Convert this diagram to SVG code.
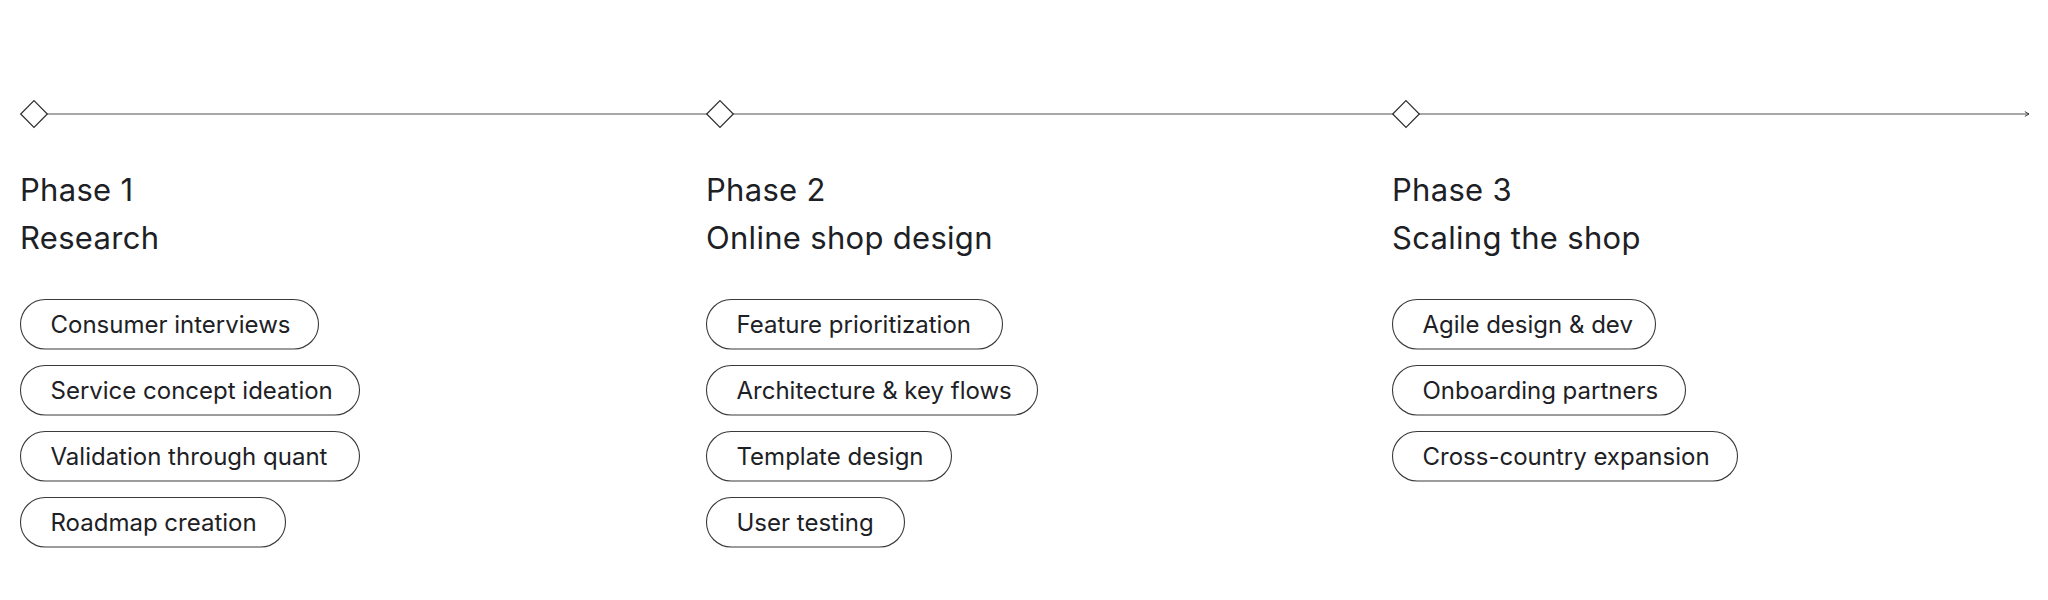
<svg xmlns="http://www.w3.org/2000/svg" width="2048" height="600" viewBox="0 0 2048 600">
<style>
  .bg { fill: #ffffff; }
  .line { stroke: #8a8a8a; stroke-width: 1.3; fill: none; }
  .diamond { fill: #ffffff; stroke: #2b2b2b; stroke-width: 1.2; }
  .head { font-family: Inter, "Liberation Sans", sans-serif; font-size: 31px; letter-spacing: 0.3px; fill: #1d2125; }
  .pill { fill: #ffffff; stroke: #3a3a3a; stroke-width: 1.1; }
  .ptext { font-family: Inter, "Liberation Sans", sans-serif; font-size: 24px; fill: #1d2125; }
</style>
<defs>
  <marker id="arrow" viewBox="0 0 10 10" refX="9" refY="5" markerWidth="6" markerHeight="6" orient="auto" markerUnits="userSpaceOnUse">
    <path d="M2,1 L9,5 L2,9" fill="none" stroke="#2b2b2b" stroke-width="1.5"/>
  </marker>
</defs>
<rect class="bg" x="0" y="0" width="2048" height="600"/>

<g id="connectors">
  <line class="line" x1="47" y1="114" x2="2029" y2="114" marker-end="url(#arrow)"/>
</g>

<g id="phase1">
  <path class="diamond" d="M34,100.7 L47.3,114 L34,127.3 L20.7,114 Z"/>
  <text class="head" x="20" y="200.5">Phase 1</text>
  <text class="head" x="20" y="248.5">Research</text>
</g>
<g id="p1-consumer-interviews">
  <rect class="pill" x="20.5" y="299.5" width="298" height="49.5" rx="24.75"/>
  <text class="ptext" x="50.5" y="333.3">Consumer interviews</text>
</g>
<g id="p1-service-concept">
  <rect class="pill" x="20.5" y="365.5" width="339" height="49.5" rx="24.75"/>
  <text class="ptext" x="50.5" y="399.3">Service concept ideation</text>
</g>
<g id="p1-validation">
  <rect class="pill" x="20.5" y="431.5" width="339" height="49.5" rx="24.75"/>
  <text class="ptext" x="50.5" y="465.3">Validation through quant</text>
</g>
<g id="p1-roadmap">
  <rect class="pill" x="20.5" y="497.5" width="265" height="49.5" rx="24.75"/>
  <text class="ptext" x="50.5" y="531.3">Roadmap creation</text>
</g>

<g id="phase2">
  <path class="diamond" d="M720,100.7 L733.3,114 L720,127.3 L706.7,114 Z"/>
  <text class="head" x="706" y="200.5">Phase 2</text>
  <text class="head" x="706" y="248.5">Online shop design</text>
</g>
<g id="p2-feature">
  <rect class="pill" x="706.5" y="299.5" width="296" height="49.5" rx="24.75"/>
  <text class="ptext" x="736.5" y="333.3">Feature prioritization</text>
</g>
<g id="p2-architecture">
  <rect class="pill" x="706.5" y="365.5" width="331" height="49.5" rx="24.75"/>
  <text class="ptext" x="736.5" y="399.3">Architecture &amp; key flows</text>
</g>
<g id="p2-template">
  <rect class="pill" x="706.5" y="431.5" width="245" height="49.5" rx="24.75"/>
  <text class="ptext" x="736.5" y="465.3">Template design</text>
</g>
<g id="p2-user-testing">
  <rect class="pill" x="706.5" y="497.5" width="198" height="49.5" rx="24.75"/>
  <text class="ptext" x="736.5" y="531.3">User testing</text>
</g>

<g id="phase3">
  <path class="diamond" d="M1406,100.7 L1419.3,114 L1406,127.3 L1392.7,114 Z"/>
  <text class="head" x="1392" y="200.5">Phase 3</text>
  <text class="head" x="1392" y="248.5">Scaling the shop</text>
</g>
<g id="p3-agile">
  <rect class="pill" x="1392.5" y="299.5" width="263" height="49.5" rx="24.75"/>
  <text class="ptext" x="1422.5" y="333.3">Agile design &amp; dev</text>
</g>
<g id="p3-onboarding">
  <rect class="pill" x="1392.5" y="365.5" width="293" height="49.5" rx="24.75"/>
  <text class="ptext" x="1422.5" y="399.3">Onboarding partners</text>
</g>
<g id="p3-cross-country">
  <rect class="pill" x="1392.5" y="431.5" width="345" height="49.5" rx="24.75"/>
  <text class="ptext" x="1422.5" y="465.3">Cross-country expansion</text>
</g>
</svg>
